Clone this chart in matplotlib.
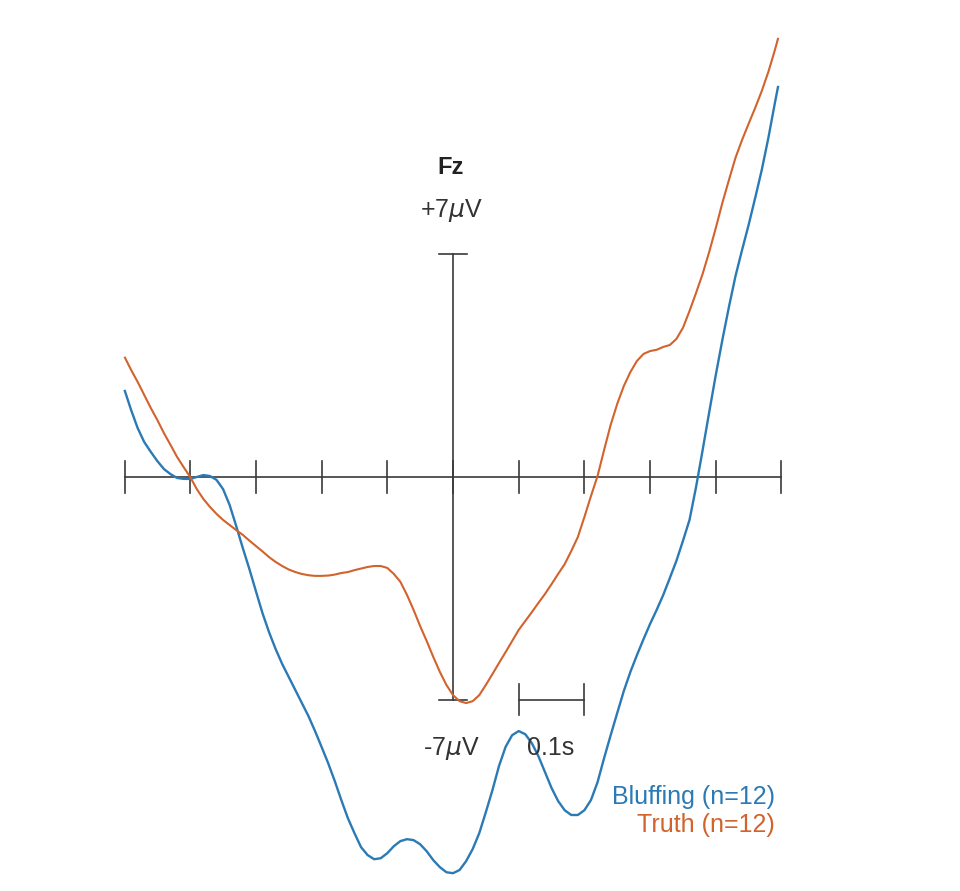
import matplotlib
matplotlib.use("Agg")
import matplotlib.pyplot as plt

# Time (ms) relative to event
time_ms = list(range(-500, 500, 10)) + [495]

# ERP amplitude at Fz (microvolts)
truth_uv = [3.78, 3.37, 2.99, 2.58, 2.17, 1.79, 1.38, 1.01, 0.63, 0.31,
            0.00, -0.38, -0.69, -0.94, -1.16, -1.35, -1.51, -1.67, -1.82, -2.00,
            -2.17, -2.34, -2.52, -2.67, -2.80, -2.91, -2.99, -3.05, -3.09, -3.11,
            -3.11, -3.10, -3.07, -3.02, -2.99, -2.93, -2.88, -2.83, -2.80, -2.80,
            -2.86, -3.05, -3.30, -3.71, -4.18, -4.69, -5.16, -5.66, -6.13, -6.54,
            -6.86, -7.05, -7.11, -7.05, -6.86, -6.54, -6.20, -5.85, -5.51, -5.16,
            -4.81, -4.53, -4.25, -3.96, -3.68, -3.37, -3.05, -2.74, -2.33, -1.89,
            -1.26, -0.60, 0.03, 0.85, 1.64, 2.30, 2.86, 3.30, 3.65, 3.87,
            3.96, 4.00, 4.09, 4.15, 4.34, 4.69, 5.22, 5.79, 6.39, 7.08,
            7.83, 8.62, 9.34, 10.04, 10.60, 11.11, 11.61, 12.14, 12.74, 13.43,
            13.81]

bluff_uv = [2.74, 2.11, 1.54, 1.10, 0.79, 0.50, 0.25, 0.09, -0.03, -0.06,
            -0.06, 0.00, 0.06, 0.03, -0.09, -0.38, -0.88, -1.54, -2.23, -2.89,
            -3.59, -4.28, -4.88, -5.41, -5.88, -6.29, -6.70, -7.11, -7.52, -7.99,
            -8.49, -9.00, -9.56, -10.16, -10.73, -11.20, -11.64, -11.89, -12.02, -11.99,
            -11.83, -11.61, -11.45, -11.39, -11.42, -11.55, -11.77, -12.05, -12.27, -12.43,
            -12.46, -12.36, -12.08, -11.70, -11.20, -10.54, -9.85, -9.09, -8.49, -8.12,
            -7.99, -8.09, -8.37, -8.78, -9.28, -9.78, -10.19, -10.48, -10.63, -10.63,
            -10.48, -10.16, -9.60, -8.84, -8.12, -7.42, -6.73, -6.13, -5.60, -5.10,
            -4.62, -4.18, -3.71, -3.18, -2.64, -2.01, -1.35, -0.31, 0.85, 2.04,
            3.21, 4.31, 5.35, 6.32, 7.14, 7.93, 8.78, 9.66, 10.66, 11.77,
            12.30]

x_ticks_ms = list(range(-500, 501, 100))
y_scale_uv = 7
series_labels = ["Bluffing (n=12)", "Truth (n=12)"]
channel_label = "Fz"

blue = "#2a7ab5"
orange = "#d2632c"
axis_col = "#3a3a3a"

fig = plt.figure(figsize=(9.6, 8.91), dpi=100)
ax = fig.add_axes([0, 0, 1, 1])
ax.set_xlim(-689.5, 771.7)
ax.set_ylim(-13.02, 15.0)
ax.axis("off")

lw_axis = 1.2
# horizontal time axis with ticks
ax.plot([x_ticks_ms[0], x_ticks_ms[-1]], [0, 0], color=axis_col, lw=lw_axis, zorder=1)
for t in x_ticks_ms:
    ax.plot([t, t], [-0.5, 0.5], color=axis_col, lw=lw_axis, zorder=1)
# vertical amplitude axis
ax.plot([0, 0], [-y_scale_uv, y_scale_uv], color=axis_col, lw=lw_axis, zorder=1)
for yv in (-y_scale_uv, y_scale_uv):
    ax.plot([-22, 22], [yv, yv], color=axis_col, lw=lw_axis, zorder=1)
# time scale bar 0.1 s
ax.plot([100, 200], [-7, -7], color=axis_col, lw=lw_axis, zorder=1)
for t in (100, 200):
    ax.plot([t, t], [-7.5, -6.5], color=axis_col, lw=lw_axis, zorder=1)

ax.plot(time_ms, bluff_uv, color=blue, lw=1.7, zorder=2,
        solid_capstyle="butt", solid_joinstyle="round")
ax.plot(time_ms, truth_uv, color=orange, lw=1.5, zorder=3,
        solid_capstyle="butt", solid_joinstyle="round")

fam = ["Liberation Sans", "DejaVu Sans"]
fs = 18
ax.text(-3, 9.72, channel_label, ha="center", va="center", fontsize=fs - 1,
        fontweight="bold", color="#222222", family=fam)
ax.text(-3, 8.37, r"+7$\mu$V", ha="center", va="center", fontsize=fs,
        color="#333333", family=fam)
ax.text(-3, -8.53, r"-7$\mu$V", ha="center", va="center", fontsize=fs,
        color="#333333", family=fam)
ax.text(148, -8.53, "0.1s", ha="center", va="center", fontsize=fs,
        color="#333333", family=fam)
ax.text(490, -10.05, series_labels[0], ha="right", va="center", fontsize=fs,
        color=blue, family=fam)
ax.text(490, -10.93, series_labels[1], ha="right", va="center", fontsize=fs,
        color=orange, family=fam)

fig.savefig("out.png", dpi=100, facecolor="white")
